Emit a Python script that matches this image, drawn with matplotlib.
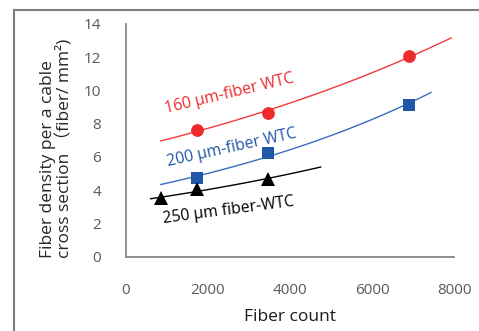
import numpy as np
import matplotlib
matplotlib.use("Agg")
import matplotlib.pyplot as plt
from matplotlib.lines import Line2D

plt.rcParams['font.family'] = ['Open Sans', 'Noto Sans CJK JP', 'DejaVu Sans']

# Data
fiber_count_160 = [1728, 3456, 6912]
density_160 = [7.62, 8.66, 12.08]
fiber_count_200 = [1728, 3456, 6912]
density_200 = [4.72, 6.26, 9.13]
fiber_count_250 = [864, 1728, 3456]
density_250 = [3.51, 4.05, 4.66]
series_labels = ["160 μm-fiber WTC", "200 μm-fiber WTC", "250 μm fiber-WTC"]
x_ticks = [0, 2000, 4000, 6000, 8000]
y_ticks = [0, 2, 4, 6, 8, 10, 12, 14]

fig = plt.figure(figsize=(4.79, 3.31), dpi=100)
ax = fig.add_axes([0.263, 0.2245, 0.685, 0.703])

def exp_trend(xs, ys, x0, x1):
    b, a = np.polyfit(np.asarray(xs, float), np.log(ys), 1)
    xx = np.linspace(x0, x1, 100)
    return xx, np.exp(a + b * xx)

xx, yy = exp_trend(fiber_count_160, density_160, 850, 7925)
ax.plot(xx, yy, color='#F23B3B', lw=1.0, zorder=2)
xx, yy = exp_trend(fiber_count_200, density_200, 850, 7435)
ax.plot(xx, yy, color='#3A6CC0', lw=1.0, zorder=2)
xx, yy = exp_trend(fiber_count_250, density_250, 600, 4745)
ax.plot(xx, yy, color='black', lw=1.0, zorder=2)

ax.plot(fiber_count_160, density_160, 'o', color='#EE2A2A', ms=9.2, mew=0, zorder=3)
ax.plot(fiber_count_200, density_200, 's', color='#2157A8', ms=9.3, mew=0, zorder=3)
ax.plot(fiber_count_250, density_250, '^', color='black', ms=10.5, mew=0, zorder=3)

ax.set_xlim(0, 8000)
ax.set_ylim(0, 14)
ax.set_xticks(x_ticks)
ax.set_yticks(y_ticks)
ax.tick_params(length=0, labelsize=11, colors='#595959', pad=18)
ax.tick_params(axis='x', pad=19)
for s in ['top', 'right']:
    ax.spines[s].set_visible(False)
for s in ['left', 'bottom']:
    ax.spines[s].set_color('#868686')
    ax.spines[s].set_linewidth(1.3)

ax.set_xlabel("Fiber count", fontsize=12.5, color='#1a1a1a', labelpad=8)
fig.text(0.118, 1 - 258 / 331, "Fiber density per a cable\ncross section （fiber/ mm²)",
         rotation=90, ha='center', va='bottom', multialignment='left',
         fontsize=12.5, color='#262626', linespacing=1.0)

# series labels placed in data coordinates
px_x = 8000 / 328
px_y = 1 / 16.62
ax.text((163 - 126) * px_x, (256.7 - 113) * px_y, series_labels[0], color='#EE2A2A',
        fontsize=11.3, rotation=13.5, ha='left', va='baseline')
ax.text((166 - 126) * px_x, (256.7 - 166) * px_y, series_labels[1], color='#2157A8',
        fontsize=11.3, rotation=12.5, ha='left', va='baseline')
ax.text((162 - 126) * px_x, (256.7 - 223) * px_y, series_labels[2], color='black',
        fontsize=11.3, rotation=7.5, ha='left', va='baseline')

# outer frame (partial, as in reference)
fig.add_artist(Line2D([14 / 479, 14 / 479], [0, 1 - 10 / 331], transform=fig.transFigure,
                      color='#7f7f7f', lw=1.5))
fig.add_artist(Line2D([14 / 479, 1], [1 - 10 / 331, 1 - 10 / 331], transform=fig.transFigure,
                      color='#7f7f7f', lw=1.5))

fig.savefig("out.png", dpi=100)
